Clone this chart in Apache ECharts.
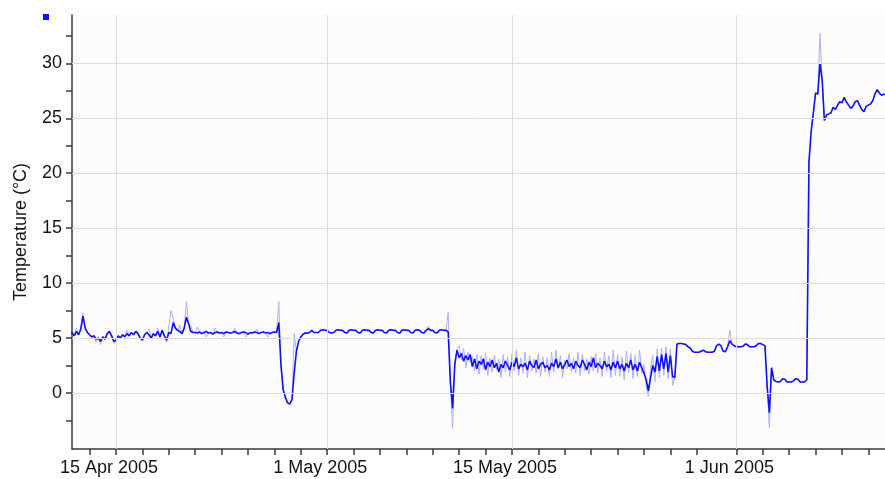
<!DOCTYPE html>
<html><head><meta charset="utf-8">
<script src="https://cdn.jsdelivr.net/npm/echarts@6/dist/echarts.min.js"></script>
<style>html,body{margin:0;padding:0;background:#fff}#c{width:885px;height:479px}</style>
</head><body><div id="c"></div>
<script>
// ---- data ----
const seriesName = 'Temperature';
const originDate = '2005-04-01T00:00:00Z';
const startTime = '2005-04-11T12:00:00Z';
const stepHours = 4;
const xMinTime = '2005-04-11T16:00:00Z';
const xMaxTime = '2005-06-12T06:15:00Z';

// 11 Apr - 26 Apr (noisy around 5.3)
const tempA = [5.4,5.5,5.2,5.6,5.3,5.8,7.0,5.9,5.5,5.3,
  5.1,5.2,4.9,5.0,4.7,5.1,4.9,5.4,5.6,5.2,
  4.7,4.8,5.2,5.0,5.3,5.1,5.4,5.2,5.5,5.3,
  5.6,5.4,5.0,4.8,5.3,5.5,5.3,5.0,5.4,5.2,
  5.6,5.1,5.7,5.2,4.8,5.5,5.4,6.4,5.9,5.7,
  5.6,5.4,5.9,6.9,6.3,5.6,5.5,
  5.5,5.45,5.55,5.4,5.5,5.6,5.45,5.5,5.35,5.5,
  5.55,5.45,5.5,5.4,5.55,5.5,5.45,5.5,5.6,5.45,
  5.4,5.5,5.55,5.5,5.35,5.5,5.45,5.55,5.5,5.4,
  5.5,5.55,5.45,5.5,5.4,5.5,5.55,5.5];
// 27 Apr - 28 Apr (dip below zero)
const tempB = [6.4,2.5,0.3,-0.4,-0.9,-1.0,-0.6,1.8,3.8,4.7,5.1,5.35,5.45];
// 28 Apr - 13 May (daily steps near 5.6)
const tempC = [5.45,5.5,5.7,5.5,5.5,5.5,5.7,5.75,5.7,5.7,
  5.5,5.45,5.5,5.7,5.75,5.7,5.7,5.5,5.45,5.7,
  5.75,5.7,5.7,5.5,5.45,5.7,5.75,5.7,5.7,5.5,
  5.45,5.7,5.75,5.7,5.7,5.5,5.45,5.7,5.75,5.7,
  5.7,5.5,5.45,5.7,5.75,5.7,5.7,5.5,5.45,5.7,
  5.75,5.7,5.5,5.45,5.7,5.85,5.7,5.7,5.5,5.45,
  5.7,5.75,5.7,5.7,5.55,1.0,-1.4,2.6,3.9];
// 14 May - 30 May (noisy around 2.5)
const tempD = [3.2,3.6,2.9,3.4,3.0,3.5,2.4,3.1,2.2,2.9,
  2.6,3.1,2.1,2.8,2.4,3.0,2.3,2.7,1.9,2.6,
  2.3,2.9,2.5,2.1,2.8,2.4,3.2,2.2,2.6,2.4,
  2.7,2.1,2.9,2.5,2.3,3.0,2.2,2.6,2.8,2.3,
  2.5,2.1,2.7,2.4,3.1,2.3,2.8,2.2,2.6,3.0,
  2.4,2.7,2.2,2.9,2.5,2.3,3.0,2.6,2.1,2.8,
  2.4,3.2,2.3,2.7,2.5,2.2,2.9,2.4,2.6,2.1,
  2.8,2.3,2.9,2.2,2.6,2.0,2.7,2.3,3.0,2.1,
  2.6,2.0,2.8,2.3,1.8,1.2,0.2,1.4,2.5,1.9,
  3.3,2.0,3.5,2.2,3.6,1.9,3.4,1.5,1.4];
// raw (unsmoothed) readings over the same noisy stretch
const rawD = [4.3,3.0,4.1,2.3,3.7,2.8,3.3,2.0,3.5,1.7,
  3.4,2.2,3.6,1.6,3.2,1.9,3.4,2.1,3.1,1.4,
  3.5,1.9,3.3,1.5,3.6,2.0,3.9,1.6,3.2,1.8,
  3.7,1.4,3.4,2.0,3.1,1.8,3.6,1.5,3.3,1.9,
  3.2,1.5,3.7,1.9,3.9,2.1,3.4,1.4,3.0,2.2,
  3.6,1.9,3.2,1.8,3.7,1.6,3.5,2.0,3.1,1.7,
  3.3,2.0,3.6,1.8,3.2,1.5,3.7,1.9,3.4,1.4,
  3.9,1.6,3.5,1.5,3.3,1.2,3.8,1.8,3.6,1.3,
  3.4,1.5,3.9,1.8,2.6,0.6,-0.3,2.3,3.4,1.0,
  4.0,1.4,4.1,1.6,4.2,1.3,4.0,0.7,1.4];
// 30 May - 6 Jun (steps near 4, then near 1)
const tempE = [4.45,4.5,4.5,4.45,4.4,4.2,4.1,3.8,3.7,3.7,
  3.7,3.8,3.9,3.75,3.7,3.7,3.7,3.8,4.3,4.45,
  4.3,3.8,3.75,4.2,4.75,4.45,4.3,4.2,4.2,4.2,
  4.25,4.45,4.4,4.2,4.2,4.2,4.3,4.5,4.5,4.4,
  4.3,0.6,-1.8,2.3,1.2,1.05,1.0,1.05,1.3,1.25,
  1.0,1.0,1.0,1.1,1.3,1.25,1.0,1.0,1.0,1.2];
// 7 Jun - 12 Jun (warm)
const tempF = [21.0,23.8,25.5,27.3,27.2,30.0,28.5,24.8,25.3,25.4,
  25.5,26.0,25.8,26.2,26.5,26.4,26.9,26.5,26.2,25.9,
  26.1,26.5,26.6,26.2,25.8,25.6,26.1,26.2,26.3,26.6,
  27.2,27.6,27.3,27.1,27.2,27.1];
// other raw readings that differ from the main trace: [sample index, value]
const rawSpikes = [[3,5.9],[5,6.0],[6,7.3],[12,4.6],[14,4.4],[20,4.5],[26,5.7],[36,5.8],[40,5.9],
  [44,4.6],[45,6.0],[46,7.5],[47,6.8],[50,6.2],[53,8.3],[55,6.1],[58,6.0],[62,5.1],[66,5.9],
  [70,5.1],[75,5.9],[80,5.1],[85,5.8],[90,5.1],[95,8.3],[102,5.4],
  [163,6.1],[172,7.3],[174,-3.2],
  [300,5.7],[318,-3.2],[336,21.2],[341,32.7]];

const xTickDates = ['2005-04-13','2005-04-15','2005-04-17','2005-04-19','2005-04-21','2005-04-23',
  '2005-04-25','2005-04-27','2005-04-29','2005-05-01','2005-05-03','2005-05-05','2005-05-07',
  '2005-05-09','2005-05-11','2005-05-13','2005-05-15','2005-05-17','2005-05-19','2005-05-21',
  '2005-05-23','2005-05-25','2005-05-27','2005-05-29','2005-06-01','2005-06-03','2005-06-05',
  '2005-06-07','2005-06-09','2005-06-11'];
const xLabelDates = ['2005-04-15','2005-05-01','2005-05-15','2005-06-01'];
const xLabelTexts = ['15 Apr 2005','1 May 2005','15 May 2005','1 Jun 2005'];
const yLabelValues = [0,5,10,15,20,25,30];
const yTickValues = [-2.5,0,2.5,5,7.5,10,12.5,15,17.5,20,22.5,25,27.5,30,32.5];
const yMin = -5.1, yMax = 34.4;
const yTitle = 'Temperature (°C)';

// ---- build ----
const DAY = 86400000;
const t0 = Date.parse(originDate);
const dayOf = s => (Date.parse(s.length === 10 ? s + 'T00:00:00Z' : s) - t0) / DAY;
const startDay = dayOf(startTime);
const stepDay = stepHours / 24;
const temps = [].concat(tempA, tempB, tempC, tempD, tempE, tempF);
const mainData = temps.map((v, i) => [startDay + i * stepDay, v]);
const rawVals = temps.slice();
const offsetD = tempA.length + tempB.length + tempC.length;
rawD.forEach((v, k) => { rawVals[offsetD + k] = v; });
rawSpikes.forEach(([i, v]) => { rawVals[i] = v; });
const rawData = rawVals.map((v, i) => [startDay + i * stepDay, v]);
const xTickDays = xTickDates.map(dayOf);
const xLabelDays = xLabelDates.map(dayOf);

const gridLines = xLabelDays.map(d => ({ xAxis: d })).concat(yLabelValues.map(v => ({ yAxis: v })));

const txt = '#141414';
const axisCol = '#3a3a3a';
const chart = echarts.init(document.getElementById('c'), null, { renderer: 'canvas' });
chart.setOption({
  animation: false,
  backgroundColor: '#ffffff',
  textStyle: { fontFamily: 'Liberation Sans, Arial, sans-serif' },
  legend: {
    data: [seriesName], left: 43, top: 14, padding: 0, itemWidth: 6, itemHeight: 6, icon: 'rect',
    formatter: () => '', selectedMode: false
  },
  grid: { left: 72, right: 0, top: 15, bottom: 30, show: true, backgroundColor: '#fcfcfc', borderWidth: 0 },
  xAxis: {
    type: 'value', min: dayOf(xMinTime), max: dayOf(xMaxTime),
    axisLine: { show: true, onZero: false, lineStyle: { color: axisCol, width: 1.5 } },
    axisTick: { show: true, length: 6, customValues: xTickDays, lineStyle: { color: axisCol, width: 1.5 } },
    axisLabel: {
      customValues: xLabelDays, fontSize: 18, color: txt, margin: 10, padding: [0, 14, 0, 0],
      formatter: v => { const k = xLabelDays.findIndex(d => Math.abs(d - v) < 1e-6); return k >= 0 ? xLabelTexts[k] : ''; }
    },
    splitLine: { show: false }
  },
  yAxis: {
    type: 'value', min: yMin, max: yMax,
    name: yTitle, nameLocation: 'middle', nameGap: 42,
    nameTextStyle: { fontSize: 18, color: txt },
    axisLine: { show: true, lineStyle: { color: axisCol, width: 1.5 } },
    axisTick: { show: true, length: 6, customValues: yTickValues, lineStyle: { color: axisCol, width: 1.5 } },
    axisLabel: { customValues: yLabelValues, fontSize: 18, color: txt, margin: 10, formatter: v => String(v) },
    splitLine: { show: false }
  },
  series: [
    {
      name: 'grid', type: 'line', data: [], z: 1, silent: true,
      markLine: {
        silent: true, symbol: 'none', label: { show: false }, animation: false,
        lineStyle: { color: '#dcdcdc', type: 'solid', width: 1 },
        data: gridLines
      }
    },
    {
      name: 'raw', type: 'line', data: rawData, z: 2, showSymbol: false, silent: true,
      lineStyle: { color: '#aeaeff', width: 1 }, itemStyle: { color: '#aeaeff' }
    },
    {
      name: seriesName, type: 'line', data: mainData, z: 3, showSymbol: false,
      lineStyle: { color: '#1010ff', width: 1.6 }, itemStyle: { color: '#1010ff' }
    }
  ]
});
</script></body></html>
